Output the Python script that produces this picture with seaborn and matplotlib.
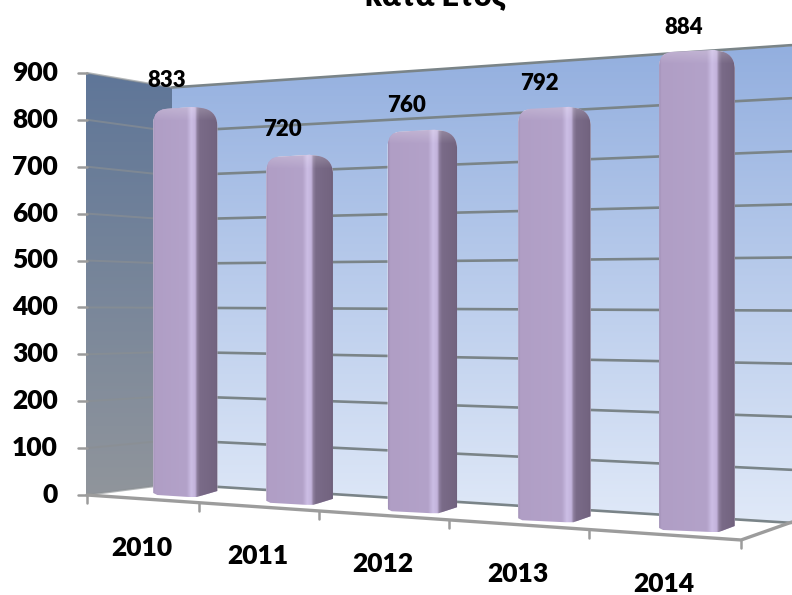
import numpy as np
import pandas as pd
import seaborn as sns
import matplotlib.pyplot as plt
from matplotlib.colors import to_rgb, LinearSegmentedColormap
from matplotlib.path import Path
from matplotlib.transforms import Transform

years = ['2010', '2011', '2012', '2013', '2014']
counts = [833, 720, 760, 792, 884]
y_ticks = [0, 100, 200, 300, 400, 500, 600, 700, 800, 900]
title_text = 'κατα Ετος'

sns.set_style('white')
plt.rcParams['font.family'] = ['Lato', 'Open Sans', 'DejaVu Sans']
plt.rcParams['font.weight'] = 'heavy'
plt.rcParams['text.color'] = 'black'


class Perspective(Transform):
    # maps (u, value) to pixels, verticals stay vertical
    input_dims = 2
    output_dims = 2
    is_separable = False
    has_inverse = False

    def __init__(self, a, b, c, d, e, f):
        super().__init__()
        self.m = (a, b, c, d, e, f)

    def transform_non_affine(self, values):
        values = np.asarray(values, dtype=float)
        a, b, c, d, e, f = self.m
        u, v = values[:, 0], values[:, 1]
        w = c * u + 1
        return np.column_stack(((a * u + b) / w, (d * u + e * v + f) / w))


# fitted on the picture: bars plane, front edge plane, back wall
bar_plane = Perspective(104.1, 185, -0.03415, -9.35, -0.4658, 495)
front_plane = Perspective(105.1, 87, -0.0347, -9.74, -0.469, 495)
back_plane = Perspective(485, 172, -0.17, -50, -0.4406, 484)


def px(plane, u, v):
    return plane.transform_non_affine([[u, v]])[0]


fig = plt.figure(figsize=(7.92, 5.95), dpi=100)
ax = fig.add_axes([0, 0, 1, 1])

df = pd.DataFrame({'year': years, 'count': counts})
sns.barplot(data=df, x='year', y='count', color='#B3A2C8', width=0.58,
            saturation=1, ax=ax, zorder=5)
bars = list(ax.patches)

# walls
back_corners = [(172, 87.5), (792, 46), (792, 523), (172, 484)]
left_corners = [(86, 73), (172, 87.5), (172, 484), (86, 495)]


def wall(corners, top, bottom, zorder):
    cmap = LinearSegmentedColormap.from_list('w', [top, bottom])
    xs, ys = zip(*corners)
    im = ax.imshow(np.linspace(0, 1, 256)[:, None], cmap=cmap, aspect='auto',
                   extent=(min(xs), max(xs), max(ys), min(ys)), zorder=zorder)
    im.set_clip_path(Path(list(corners) + [corners[0]], closed=True), ax.transData)


wall(back_corners, '#93AFDF', '#E0E9F8', 1)
wall(left_corners, '#5F7698', '#90959C', 1)

# gridlines on both walls
grid = '#7A8488'
for v in y_ticks:
    xb0, yb0 = px(back_plane, 0, v)
    xb1, yb1 = px(back_plane, 1, v)
    xf, yf = px(front_plane, 0, v)
    ax.plot([xb0, xb1], [yb0, yb1], color=grid, lw=1.9, zorder=2)
    ax.plot([xf, xb0], [yf, yb0], color='#8A8F92', lw=1.4, alpha=0.65, zorder=2)
    ax.plot([xf - 9, xf], [yf, yf], color='#9A9A9A', lw=1.8, zorder=2)
    ax.text(58, yf, str(v), ha='right', va='center', fontsize=19, zorder=8)

# floor edge
x_end, y_end = px(front_plane, 5, 0)
xs0, ys0 = px(front_plane, 0, 0)
ax.plot([xs0, x_end, 792], [ys0, y_end, 522], color='#9C9C9C', lw=2.4, zorder=2)
for i in range(6):
    xt, yt = px(front_plane, i, 0)
    ax.plot([xt, xt], [yt, yt + 8], color='#9C9C9C', lw=1.8, zorder=2)

for i, year in enumerate(years):
    xt, yt = px(front_plane, i + 0.5, 0)
    ax.annotate(year, (xt, yt), xytext=(0, -49 * 0.72), textcoords='offset points',
                ha='center', va='center', fontsize=19, zorder=8)

# bars: narrower than true perspective, rounded top, shaded faces
shrink = [1, 0.97, 0.94, 0.91, 0.88]
for i, (bar, s) in enumerate(zip(bars, shrink)):
    centre = bar.get_x() + bar.get_width() / 2
    height = bar.get_height()
    width = bar.get_width() * s
    bar.set_x(centre - width / 2)
    bar.set_width(width)
    bar.set_transform(bar_plane + ax.transData)

    xl = px(bar_plane, centre - width / 2, 0)[0]
    xr = px(bar_plane, centre + width / 2, 0)[0]
    yb = px(bar_plane, centre, 0)[1]
    yt = px(bar_plane, centre, height)[1] - 0.8 * i
    w = xr - xl
    side = 0.68 + 0.0275 * i
    peak = xl + (side - 0.06) * w

    verts = [(xl, yb - 2), (xl, yt + 15), (xl + 1, yt + 3), (xl + 12, yt + 2),
             (peak, yt), (xr - 16, yt + 1), (xr - 1, yt + 3), (xr, yt + 18),
             (xr, yb - 4), (xl + side * w, yb + 2), (xl + side * w - 8, yb + 2),
             (xl + 4, yb), (xl, yb - 2)]
    codes = [Path.MOVETO, Path.LINETO, Path.CURVE3, Path.CURVE3, Path.LINETO,
             Path.LINETO, Path.CURVE3, Path.CURVE3, Path.LINETO, Path.LINETO,
             Path.LINETO, Path.LINETO, Path.CLOSEPOLY]
    outline = Path(verts, codes)
    bar.set_clip_path(outline, ax.transData)

    stops = [(0, '#A08FB5'), (0.03, '#B09EC5'), (side - 0.16, '#B3A2C9'),
             (side - 0.09, '#CCBEE5'), (side - 0.03, '#C3B3DB'),
             (side, '#8E7F9E'), (side + 0.04, '#7A6B88'), (0.97, '#736480'),
             (1, '#6C5E79')]
    pos = np.linspace(0, 1, 200)
    rgb = np.array([np.interp(pos, [p for p, _ in stops],
                              [to_rgb(c)[k] for _, c in stops]) for k in range(3)]).T
    n = int(yb + 6 - yt)
    img = np.repeat(rgb[None, :, :], n, axis=0)
    # lighter bevel along the top
    bevel = np.clip(1 - np.arange(n) / 16, 0, 1)[:, None, None] * 0.24
    img = img * (1 - bevel) + bevel
    im = ax.imshow(img, aspect='auto', extent=(xl, xr, yb + 4, yt - 2), zorder=6)
    im.set_clip_path(outline, ax.transData)

    xv, yv = px(bar_plane, centre, height)
    ax.annotate(str(counts[i]), (xv, yv), xytext=((-18 + 1.25 * i) * 0.72, 26 * 0.72),
                textcoords='offset points', ha='center', va='center',
                fontsize=16, zorder=8)

ax.text(436, 5, title_text, ha='center', va='baseline', fontsize=22, zorder=8, clip_on=False)

ax.set_xlim(0, 792)
ax.set_ylim(595, 0)
ax.axis('off')
fig.savefig('out.png', dpi=100)
